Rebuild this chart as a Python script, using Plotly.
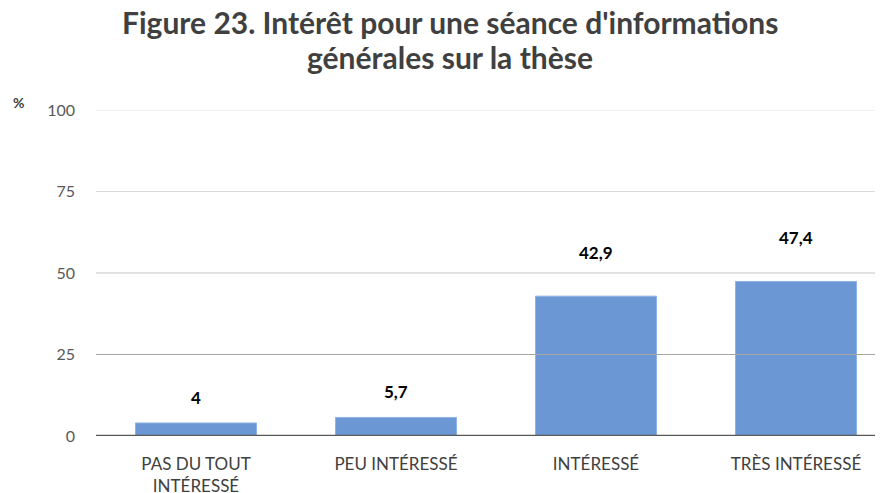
import plotly.graph_objects as go

categories = ["PAS DU TOUT<br>INTÉRESSÉ", "PEU INTÉRESSÉ", "INTÉRESSÉ", "TRÈS INTÉRESSÉ"]
values = [4, 5.7, 42.9, 47.4]
value_labels = ["4", "5,7", "42,9", "47,4"]
y_ticks = [0, 25, 50, 75, 100]
title_lines = ["Figure 23. Intérêt pour une séance d'informations",
               "générales sur la thèse"]

label_shift = [25, 26, 44, 44]
grid_colors = ["#a6a6a6", "#c4c4c4", "#d9d9d9", "#e3e3e3"]
FONT = "Lato"

# page body has an 8px margin; margins compensate so the plot area sits at
# x 96..883, y 110..436 in the photographed window
ML, MT, MB = 88, 102, 65
PLOT_W = 883 - ML

fig = go.Figure()
fig.add_trace(go.Bar(
    x=list(range(len(categories))), y=values,
    width=0.605,
    marker=dict(color="#6b98d5", line=dict(color="#8fb3e3", width=1)),
    hoverinfo="skip",
))

for i, (v, t) in enumerate(zip(values, value_labels)):
    fig.add_annotation(x=i, y=v, text="<b>%s</b>" % t, showarrow=False,
                       yshift=label_shift[i], yanchor="middle",
                       font=dict(family=FONT, size=17, color="#000000"))

for tv, c in zip(y_ticks[1:], grid_colors):
    fig.add_shape(type="line", xref="paper", x0=0, x1=1, yref="y", y0=tv, y1=tv,
                  line=dict(color=c, width=1.2), layer="above")
fig.add_shape(type="line", xref="paper", x0=0, x1=1, yref="y", y0=0, y1=0,
              line=dict(color="#595959", width=2.5), layer="above")

title_x = (450 - 8 - ML) / PLOT_W
for line, ypix in zip(title_lines, [22, 57]):
    fig.add_annotation(xref="paper", yref="paper", x=title_x, y=1,
                       text="<b>%s</b>" % line, showarrow=False,
                       xanchor="center", yanchor="middle", yshift=(MT + 8) - ypix,
                       font=dict(family=FONT, size=30, color="#404040"))

fig.add_annotation(xref="paper", yref="paper", x=0, y=1, xanchor="center",
                   yanchor="middle", xshift=-(ML + 8) + 18, yshift=(MT + 8) - 102,
                   text="<b>%</b>", showarrow=False,
                   font=dict(family=FONT, size=14, color="#404040"))

fig.update_layout(
    width=883, height=493,
    margin=dict(l=ML, r=0, t=MT, b=MB, autoexpand=False),
    plot_bgcolor="white", paper_bgcolor="white",
    showlegend=False,
    xaxis=dict(range=[-0.5, -0.5 + PLOT_W / 200.0], tickvals=list(range(len(categories))),
               ticktext=categories, showgrid=False, zeroline=False, showline=False,
               ticklabelstandoff=16,
               tickfont=dict(family=FONT, size=17, color="#404040"), ticks=""),
    yaxis=dict(range=[0, 100], tickvals=y_ticks, showgrid=False, zeroline=False,
               showline=False, ticks="", ticklabelstandoff=20,
               tickfont=dict(family=FONT, size=16, color="#595959")),
)

fig.write_html("out.html")
